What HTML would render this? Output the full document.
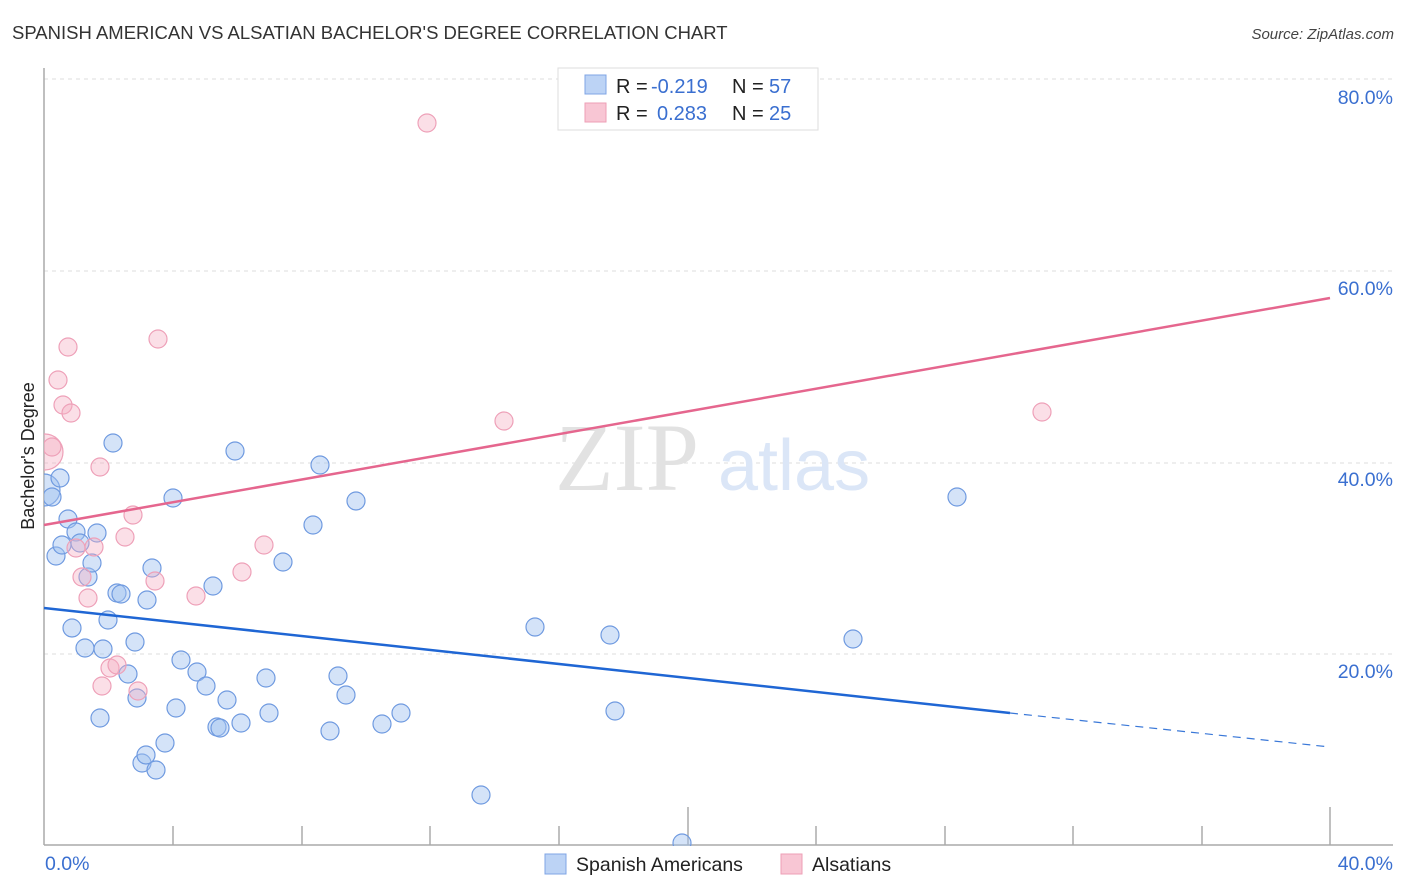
<!DOCTYPE html>
<html><head><meta charset="utf-8"><style>
html,body{margin:0;padding:0;background:#fff;}
svg{display:block;font-family:"Liberation Sans",sans-serif;}
</style></head><body>
<svg width="1406" height="892" viewBox="0 0 1406 892" xmlns="http://www.w3.org/2000/svg">
<defs><clipPath id="c"><rect x="44" y="60" width="1360" height="786"/></clipPath></defs>
<text x="12" y="39" font-size="18.5" fill="#333">SPANISH AMERICAN VS ALSATIAN BACHELOR'S DEGREE CORRELATION CHART</text>
<text x="1394" y="39" font-size="15" fill="#444" font-style="italic" text-anchor="end">Source: ZipAtlas.com</text>
<g stroke="#ddd" stroke-dasharray="4,4" stroke-width="1">
<line x1="44" y1="79" x2="1393" y2="79"/><line x1="44" y1="271" x2="1393" y2="271"/>
<line x1="44" y1="463" x2="1393" y2="463"/><line x1="44" y1="654" x2="1393" y2="654"/>
</g>
<text x="555" y="490" font-size="96" fill="#e2e2e2" font-family="Liberation Serif,serif">ZIP</text>
<text x="718" y="490" font-size="72" fill="#dbe6f7">atlas</text>
<g stroke="#aaa" stroke-width="1.5">
<line x1="44" y1="68" x2="44" y2="845"/><line x1="44" y1="845" x2="1393" y2="845"/>
<line x1="173" y1="826" x2="173" y2="845"/><line x1="302" y1="826" x2="302" y2="845"/>
<line x1="430" y1="826" x2="430" y2="845"/><line x1="559" y1="826" x2="559" y2="845"/>
<line x1="688" y1="807" x2="688" y2="845"/><line x1="816" y1="826" x2="816" y2="845"/>
<line x1="945" y1="826" x2="945" y2="845"/><line x1="1073" y1="826" x2="1073" y2="845"/>
<line x1="1202" y1="826" x2="1202" y2="845"/><line x1="1330" y1="807" x2="1330" y2="845"/>
</g>
<g font-size="19.5" fill="#3a6fd0">
<text x="1393" y="104" text-anchor="end">80.0%</text>
<text x="1393" y="295" text-anchor="end">60.0%</text>
<text x="1393" y="486" text-anchor="end">40.0%</text>
<text x="1393" y="678" text-anchor="end">20.0%</text>
<text x="45" y="870">0.0%</text>
<text x="1393" y="870" text-anchor="end">40.0%</text>
</g>
<text transform="translate(34,456) rotate(-90)" font-size="18" fill="#222" text-anchor="middle">Bachelor's Degree</text>
<g clip-path="url(#c)">
<g fill="rgba(160,192,240,0.45)" stroke="#6f9ae0" stroke-width="1.2">
<circle cx="44" cy="490" r="16"/>
<circle cx="52" cy="497" r="9"/><circle cx="60" cy="478" r="9"/><circle cx="56" cy="556" r="9"/><circle cx="62" cy="545" r="9"/><circle cx="68" cy="519" r="9"/><circle cx="72" cy="628" r="9"/><circle cx="76" cy="532" r="9"/><circle cx="80" cy="543" r="9"/><circle cx="85" cy="648" r="9"/><circle cx="88" cy="577" r="9"/><circle cx="92" cy="563" r="9"/><circle cx="97" cy="533" r="9"/><circle cx="100" cy="718" r="9"/><circle cx="103" cy="649" r="9"/><circle cx="108" cy="620" r="9"/><circle cx="113" cy="443" r="9"/><circle cx="117" cy="593" r="9"/><circle cx="121" cy="594" r="9"/><circle cx="128" cy="674" r="9"/><circle cx="135" cy="642" r="9"/><circle cx="137" cy="698" r="9"/><circle cx="142" cy="763" r="9"/><circle cx="146" cy="755" r="9"/><circle cx="147" cy="600" r="9"/><circle cx="152" cy="568" r="9"/><circle cx="156" cy="770" r="9"/><circle cx="165" cy="743" r="9"/><circle cx="173" cy="498" r="9"/><circle cx="176" cy="708" r="9"/><circle cx="181" cy="660" r="9"/><circle cx="197" cy="672" r="9"/><circle cx="206" cy="686" r="9"/><circle cx="213" cy="586" r="9"/><circle cx="227" cy="700" r="9"/><circle cx="217" cy="727" r="9"/><circle cx="220" cy="728" r="9"/><circle cx="235" cy="451" r="9"/><circle cx="241" cy="723" r="9"/><circle cx="266" cy="678" r="9"/><circle cx="269" cy="713" r="9"/><circle cx="283" cy="562" r="9"/><circle cx="313" cy="525" r="9"/><circle cx="320" cy="465" r="9"/><circle cx="330" cy="731" r="9"/><circle cx="338" cy="676" r="9"/><circle cx="346" cy="695" r="9"/><circle cx="356" cy="501" r="9"/><circle cx="382" cy="724" r="9"/><circle cx="401" cy="713" r="9"/><circle cx="481" cy="795" r="9"/><circle cx="535" cy="627" r="9"/><circle cx="610" cy="635" r="9"/><circle cx="615" cy="711" r="9"/><circle cx="682" cy="843" r="9"/><circle cx="853" cy="639" r="9"/><circle cx="957" cy="497" r="9"/>
</g>
<g fill="rgba(245,175,195,0.4)" stroke="#eea0b8" stroke-width="1.2">
<circle cx="45" cy="452" r="18"/>
<circle cx="52" cy="447" r="9"/><circle cx="58" cy="380" r="9"/><circle cx="63" cy="405" r="9"/><circle cx="68" cy="347" r="9"/><circle cx="71" cy="413" r="9"/><circle cx="76" cy="548" r="9"/><circle cx="82" cy="577" r="9"/><circle cx="88" cy="598" r="9"/><circle cx="94" cy="547" r="9"/><circle cx="100" cy="467" r="9"/><circle cx="102" cy="686" r="9"/><circle cx="110" cy="668" r="9"/><circle cx="117" cy="665" r="9"/><circle cx="125" cy="537" r="9"/><circle cx="133" cy="515" r="9"/><circle cx="138" cy="691" r="9"/><circle cx="155" cy="581" r="9"/><circle cx="158" cy="339" r="9"/><circle cx="196" cy="596" r="9"/><circle cx="242" cy="572" r="9"/><circle cx="264" cy="545" r="9"/><circle cx="427" cy="123" r="9"/><circle cx="504" cy="421" r="9"/><circle cx="1042" cy="412" r="9"/>
</g>
</g>
<line x1="44" y1="525" x2="1330" y2="298" stroke="#e5668e" stroke-width="2.5"/>
<line x1="44" y1="608" x2="1010" y2="713" stroke="#1f66d4" stroke-width="2.5"/>
<line x1="1010" y1="713" x2="1330" y2="747" stroke="#3a78d8" stroke-width="1.2" stroke-dasharray="8,6"/>
<rect x="558" y="68" width="260" height="62" fill="#fff" stroke="#ddd"/>
<rect x="585" y="75" width="21" height="19" fill="#bcd3f5" stroke="#7fa5e5"/>
<rect x="585" y="103" width="21" height="19" fill="#f8c6d4" stroke="#ee9fb6"/>
<g font-size="20">
<text x="616" y="93" fill="#222">R = </text><text x="651" y="93" fill="#3a6fd0">-0.219</text>
<text x="732" y="93" fill="#222">N = </text><text x="769" y="93" fill="#3a6fd0">57</text>
<text x="616" y="120" fill="#222">R = </text><text x="657" y="120" fill="#3a6fd0">0.283</text>
<text x="732" y="120" fill="#222">N = </text><text x="769" y="120" fill="#3a6fd0">25</text>
</g>
<rect x="545" y="854" width="21" height="20" fill="#bcd3f5" stroke="#7fa5e5"/>
<text x="576" y="871" font-size="19.5" fill="#222">Spanish Americans</text>
<rect x="781" y="854" width="21" height="20" fill="#f8c6d4" stroke="#ee9fb6"/>
<text x="812" y="871" font-size="19.5" fill="#222">Alsatians</text>
</svg>
</body></html>
